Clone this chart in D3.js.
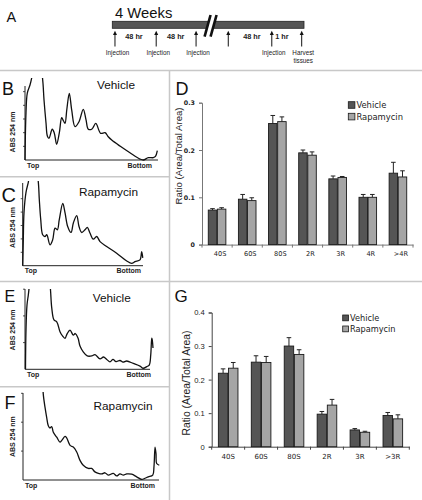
<!DOCTYPE html>
<html><head><meta charset="utf-8">
<script src="https://cdn.jsdelivr.net/npm/d3@7"></script>
<style>html,body{margin:0;padding:0;background:#fff;}svg{display:block;}</style>
</head><body>
<svg id="fig" width="422" height="500"></svg>
<script>
// ---------------- DATA ----------------
// Panel A timeline (schematic positions along the bar, % of bar length)
const timelineTitle = "4 Weeks";
const arrowPos = [1.4, 22.9, 43.7, 60.5, 83.2, 98.8];
const arrowLabels = [["Injection"],["Injection"],["Injection"],[],["Injection"],["Harvest","tissues"]];
const intervalLabels = ["48 hr","48 hr","48 hr","1 hr"];
const intervalPos = [11.3, 33.1, 72.8, 88.5];
const breakPos = 51;

// Polysome profiles: [gradient position (% top->bottom), absorbance (tick units)]
const profileB = [[0,0],[0.75,3.44],[1.73,4.9],[3.76,5.49],[5.04,6.0],[6.0,6.6],[12.0,6.6],[13.3,5.85],[14.3,4.39],[15.8,2.71],[16.8,1.76],[18.0,1.59],[20.5,2.25],[22.0,1.98],[23.8,1.15],[25.8,1.98],[27.6,3.09],[29,2.85],[30.1,2.68],[31.4,3.66],[33.3,4.88],[35.1,3.66],[37.6,2.44],[40.6,2.8],[43.8,3.71],[45.9,2.93],[47.6,2.25],[50.4,2.27],[53.2,2.68],[56.9,1.95],[60.2,2.0],[62.6,1.7],[65.2,1.46],[71.4,1.02],[78.9,0.53],[86.5,0.07],[89.0,0.0],[92.7,0.17],[96.5,0.17],[98.1,0.26],[99.5,0.68]];
const profileC = [[0,0],[0.5,1.93],[1.08,3.96],[2.74,5.47],[4.66,6.22],[6.07,6.82],[11.9,6.82],[13.0,6.22],[13.8,4.94],[15.0,3.44],[16.6,2.31],[18.5,2.18],[20.0,2.31],[22.7,1.56],[24.9,1.93],[26.9,2.81],[28.8,2.68],[30.4,3.44],[33.3,4.64],[35.2,3.94],[37.4,2.93],[40.2,2.48],[42.1,3.19],[44.9,3.74],[46.8,2.93],[49.0,2.48],[51.8,2.68],[53.7,2.86],[55.9,2.44],[58.7,1.98],[61.5,2.18],[64.3,1.8],[69.8,1.43],[78.1,0.93],[86.5,0.35],[90.6,0.18],[93.4,0.3],[97.5,0.43],[98.9,1.05],[99.8,0.58]];
const profileE = [[0.4,0.01],[0.8,1.47],[1.6,2.41],[2.64,2.78],[3.6,3.16],[4.5,3.4],[19.5,3.4],[20.4,2.97],[21.4,2.3],[23.2,1.85],[25.4,1.78],[28,1.41],[30,1.25],[32,1.16],[33.6,1.32],[36,1.47],[38.6,1.28],[40.2,1.34],[42.4,1.17],[44,0.87],[46.6,0.65],[49.8,0.5],[53.4,0.5],[56,0.55],[60,0.39],[62.8,0.46],[65.4,0.37],[68,0.28],[70.4,0.37],[72.8,0.29],[76,0.33],[78.4,0.27],[81.4,0.31],[86.6,0.22],[92,0.12],[94.6,0.04],[97.4,0.1],[99.4,0.16],[100.6,0.54],[101.4,1.17],[101.8,1.1],[102.4,0.8]];
const profileF = [[14.7,3.25],[14.9,2.97],[16.2,2.51],[17.4,2.17],[18.6,1.88],[19.9,1.8],[21.1,1.85],[22.3,1.65],[24.8,1.48],[27.2,1.31],[28.5,1.37],[30.9,1.51],[32.1,1.46],[34.6,1.2],[37.0,1.14],[39.5,0.97],[41.9,0.68],[44.3,0.51],[48.0,0.4],[50.5,0.4],[52.9,0.28],[55.4,0.23],[57.9,0.21],[60.3,0.25],[62.7,0.17],[66.4,0.23],[68.9,0.14],[71.3,0.21],[73.8,0.17],[76.3,0.21],[79.9,0.2],[83.6,0.11],[87.3,0.02],[89.7,0.06],[92.1,0.11],[95.4,0.17],[96.3,0.46],[97.1,1.14],[97.8,0.91],[98.3,0.57],[100.2,0.51]];
const profileTicks = [1,2,3,4,5];

// Panel D
const catsD = ["40S","60S","80S","2R","3R","4R",">4R"];
const vehD = [0.073,0.096,0.256,0.194,0.139,0.100,0.151];
const vehErrD = [0.003,0.010,0.017,0.006,0.006,0.006,0.023];
const rapD = [0.075,0.093,0.260,0.189,0.142,0.100,0.143];
const rapErrD = [0.003,0.006,0.010,0.007,0.002,0.006,0.013];
const ticksD = [0,0.1,0.2,0.3];

// Panel G
const catsG = ["40S","60S","80S","2R","3R",">3R"];
const vehG = [0.219,0.252,0.300,0.097,0.050,0.093];
const vehErrG = [0.013,0.019,0.025,0.008,0.004,0.009];
const rapG = [0.234,0.251,0.275,0.124,0.043,0.083];
const rapErrG = [0.017,0.018,0.014,0.017,0.003,0.012];
const ticksG = [0,0.1,0.2,0.3,0.4];

const seriesNames = ["Vehicle","Rapamycin"];
const seriesColors = ["#555555","#a5a5a5"];
const yTitle = "Ratio (Area/Total Area)";

// ---------------- DRAW ----------------
const svg = d3.select("#fig");
svg.append("rect").attr("width",422).attr("height",500).attr("fill","#fff");
const SANS = "'Liberation Sans', Arial, Helvetica, sans-serif";
const VERD = "'DejaVu Sans', Verdana, sans-serif";

// separators
const sep = svg.append("g").attr("stroke","#c8c8c8").attr("stroke-width",1.5);
[[0,70.5,422,70.5],[169.5,70.5,169.5,500],[0,176.7,169.5,176.7],[0,281.5,422,281.5],[0,386.7,169.5,386.7]]
  .forEach(l=>sep.append("line").attr("x1",l[0]).attr("y1",l[1]).attr("x2",l[2]).attr("y2",l[3]));

function letter(t,x,y,s){
  svg.append("text").attr("x",x).attr("y",y).attr("font-family",SANS).attr("font-size",s)
    .attr("fill","#111").text(t);
}

// ---- Panel A ----
(function(){
  const g = svg.append("g");
  const xs = d3.scaleLinear([0,100],[112.3,304]);
  letter("A",6.5,21.8,14.5);
  g.append("text").attr("x",115).attr("y",18.3).attr("font-family",SANS).attr("font-size",14.8)
    .attr("fill","#111").text(timelineTitle);
  g.append("rect").attr("x",xs(0)).attr("y",21.3).attr("width",xs(100)-xs(0)).attr("height",7)
    .attr("fill","#555").attr("stroke","#222").attr("stroke-width",0.8);
  // break
  const bx = xs(breakPos);
  g.append("polygon").attr("points",`${bx-6},37 ${bx},15 ${bx+6},15 ${bx},37`).attr("fill","#fff");
  g.append("line").attr("x1",bx-5.5).attr("y1",36.7).attr("x2",bx+0.5).attr("y2",15)
    .attr("stroke","#111").attr("stroke-width",2.6);
  g.append("line").attr("x1",bx+0.5).attr("y1",36.7).attr("x2",bx+6.5).attr("y2",15)
    .attr("stroke","#111").attr("stroke-width",2.6);
  arrowPos.forEach((p,i)=>{
    const x = xs(p);
    g.append("line").attr("x1",x).attr("y1",34).attr("x2",x).attr("y2",46.5).attr("stroke","#111").attr("stroke-width",1);
    g.append("path").attr("d",`M${x-2},35 L${x},30.8 L${x+2},35 Z`).attr("fill","#111");
    arrowLabels[i].forEach((t,j)=>{
      g.append("text").attr("x",x+ (i===0?2.5:(i===5?1.5:2))).attr("y",54.5+j*8).attr("text-anchor","middle")
        .attr("font-family",SANS).attr("font-size",6.3).attr("fill","#222").text(t);
    });
  });
  intervalLabels.forEach((t,i)=>{
    g.append("text").attr("x",xs(intervalPos[i])).attr("y",38.5).attr("text-anchor","middle")
      .attr("font-family",SANS).attr("font-size",7.3).attr("font-weight","bold").attr("fill","#222").text(t);
  });
})();

// ---- profile panels ----
let clipId = 0;
function profile(data, c){
  const g = svg.append("g");
  const x = d3.scaleLinear([0,100],[c.left,c.right]);
  const y = d3.scaleLinear([0,1],[c.bottom,c.bottom-c.step]);
  const ax = g.append("g").attr("stroke","#222").attr("stroke-width",1);
  ax.append("line").attr("x1",c.left).attr("y1",c.axisTop).attr("x2",c.left).attr("y2",c.bottom);
  ax.append("line").attr("x1",c.left).attr("y1",c.bottom).attr("x2",c.right).attr("y2",c.bottom);
  profileTicks.filter(t=>y(t)>=c.axisTop-0.5).forEach(t=>{
    ax.append("line").attr("x1",c.left-2).attr("x2",c.left).attr("y1",y(t)).attr("y2",y(t)).attr("stroke-width",0.8);
  });
  const id = "clip"+(clipId++);
  svg.append("clipPath").attr("id",id).append("rect").attr("x",0).attr("y",c.clipTop).attr("width",169).attr("height",c.bottom+10-c.clipTop);
  g.append("path").datum(data).attr("clip-path",`url(#${id})`)
    .attr("d",d3.line().x(d=>x(d[0])).y(d=>y(d[1])).curve(d3.curveCatmullRom.alpha(0.5)))
    .attr("fill","none").attr("stroke","#111").attr("stroke-width",1.3);
  g.append("text").attr("x",c.left+2).attr("y",c.bottom+7.5).attr("font-family",SANS).attr("font-size",7)
    .attr("font-weight","bold").attr("fill","#222").text("Top");
  g.append("text").attr("x",c.bottomEnd).attr("y",c.bottom+7.5).attr("text-anchor","end").attr("font-family",SANS).attr("font-size",7)
    .attr("font-weight","bold").attr("fill","#222").text("Bottom");
  g.append("text").attr("transform",`translate(${c.absX},${c.absY}) rotate(-90)`).attr("text-anchor","middle")
    .attr("font-family",SANS).attr("font-size",7).attr("font-weight","bold").attr("fill","#222").text("ABS 254 nm");
  g.append("text").attr("x",c.titleX).attr("y",c.titleY).attr("text-anchor","middle").attr("font-family",SANS)
    .attr("font-size",11.8).attr("fill","#111").text(c.title);
  letter(c.letter,c.lx,c.ly,c.ls);
}
profile(profileB,{left:25,right:158,bottom:160,step:13.67,axisTop:86,clipTop:78,bottomEnd:152,absX:14.5,absY:132,
  title:"Vehicle",titleX:116,titleY:88.5,letter:"B",lx:2,ly:94.5,ls:18});
profile(profileC,{left:22.7,right:143,bottom:265.7,step:13.4,axisTop:183,clipTop:181,bottomEnd:141,absX:14.5,absY:227.5,
  title:"Rapamycin",titleX:108.5,titleY:195.5,letter:"C",lx:1.5,ly:201.5,ls:20});
profile(profileE,{left:25,right:150,bottom:369.3,step:26.7,axisTop:289,clipTop:289,bottomEnd:151,absX:14.5,absY:330,
  title:"Vehicle",titleX:111.7,titleY:301.5,letter:"E",lx:4.5,ly:301.5,ls:16});
profile(profileF,{left:23,right:159,bottom:480,step:28.9,axisTop:393,clipTop:392,bottomEnd:155,absX:14.5,absY:436.7,
  title:"Rapamycin",titleX:123,titleY:410,letter:"F",lx:4.5,ly:408.5,ls:18});

// ---- bar panels ----
function bars(c){
  const g = svg.append("g");
  const x0 = d3.scaleBand(c.cats,[c.left,c.right]);
  const y = d3.scaleLinear([0,c.ticks[c.ticks.length-1]],[c.bottom,c.top]);
  const bw = x0.bandwidth();
  const x1 = d3.scaleBand(seriesNames,[bw/2-c.half,bw/2+c.half]).paddingInner(0.07);
  // y axis
  const ya = g.append("g").attr("transform",`translate(${c.left},0)`)
    .call(d3.axisLeft(y).tickValues(c.ticks).tickSize(3).tickPadding(c.tickPad)
      .tickFormat(d=>d===0?"0":d3.format(".1f")(d)));
  ya.select(".domain").attr("stroke",c.axisColor);
  ya.selectAll(".tick line").attr("stroke",c.axisColor);
  ya.selectAll("text").attr("font-family",c.tickFont).attr("font-size",c.tickSize).attr("fill","#222")
    .attr("font-weight",c.tickWeight);
  // x axis
  const xa = g.append("g").attr("transform",`translate(0,${c.bottom})`)
    .call(d3.axisBottom(x0).tickSize(0).tickPadding(c.xPad));
  xa.select(".domain").attr("stroke",c.axisColor);
  xa.selectAll("text").attr("font-family",c.xFont).attr("font-size",c.xSize).attr("fill","#222").attr("dx",c.xShift);
  c.cats.concat(["_end"]).forEach((cat,i)=>{
    const xx = i<c.cats.length ? x0(cat) : c.right;
    g.append("line").attr("x1",xx).attr("x2",xx).attr("y1",c.bottom).attr("y2",c.bottom+3).attr("stroke",c.axisColor);
  });
  const sets = [[c.veh,c.vehErr],[c.rap,c.rapErr]];
  sets.forEach((s,si)=>{
    c.cats.forEach((cat,i)=>{
      const bx = x0(cat)+x1(seriesNames[si]);
      const w = x1.bandwidth();
      const cx = bx+w/2;
      g.append("line").attr("x1",cx).attr("x2",cx).attr("y1",y(s[0][i])).attr("y2",y(s[0][i]+s[1][i]))
        .attr("stroke","#222").attr("stroke-width",1);
      g.append("line").attr("x1",cx-2.3).attr("x2",cx+2.3).attr("y1",y(s[0][i]+s[1][i])).attr("y2",y(s[0][i]+s[1][i]))
        .attr("stroke","#222").attr("stroke-width",1);
      g.append("rect").attr("x",bx).attr("y",y(s[0][i])).attr("width",w).attr("height",y(0)-y(s[0][i]))
        .attr("fill",seriesColors[si]).attr("stroke","#1a1a1a").attr("stroke-width",0.9);
    });
  });
  g.append("text").attr("transform",`translate(${c.titleX},${c.titleY}) rotate(-90)`).attr("text-anchor","middle")
    .attr("font-family",SANS).attr("font-size",c.titleSize).attr("fill","#222").text(yTitle);
  seriesNames.forEach((n,i)=>{
    g.append("rect").attr("x",c.legX).attr("y",c.legY+i*c.legStep).attr("width",c.legBox).attr("height",c.legBox)
      .attr("fill",seriesColors[i]).attr("stroke","#1a1a1a").attr("stroke-width",0.8);
    g.append("text").attr("x",c.legX+c.legBox+1.5).attr("y",c.legY+i*c.legStep+c.legBox/2).attr("dy","0.35em")
      .attr("font-family",VERD).attr("font-size",c.legSize).attr("fill","#222").text(n);
  });
  letter(c.letter,c.lx,c.ly,c.ls);
}
bars({cats:catsD,veh:vehD,vehErr:vehErrD,rap:rapD,rapErr:rapErrD,ticks:ticksD,left:202,right:413,bottom:244.6,top:102.7,
  half:8.8,tickPad:4,axisColor:"#777",tickFont:VERD,tickSize:6.3,tickWeight:"bold",xPad:7,xFont:VERD,xSize:6.6,xShift:3,
  titleX:181.5,titleY:156,titleSize:9.6,legX:348.3,legY:101.7,legStep:11.6,legBox:6.6,legSize:8.4,letter:"D",lx:175.5,ly:94.5,ls:18});
bars({cats:catsG,veh:vehG,vehErr:vehErrG,rap:rapG,rapErr:rapErrG,ticks:ticksG,left:211.7,right:409.3,bottom:446.7,top:312.5,
  half:9.8,tickPad:4,axisColor:"#444",tickFont:SANS,tickSize:7.6,tickWeight:"normal",xPad:7,xFont:VERD,xSize:7,xShift:0,
  titleX:190,titleY:383,titleSize:10.4,legX:342.7,legY:315,legStep:11,legBox:5.8,legSize:8.2,letter:"G",lx:174.5,ly:302,ls:17});
</script>
</body></html>
